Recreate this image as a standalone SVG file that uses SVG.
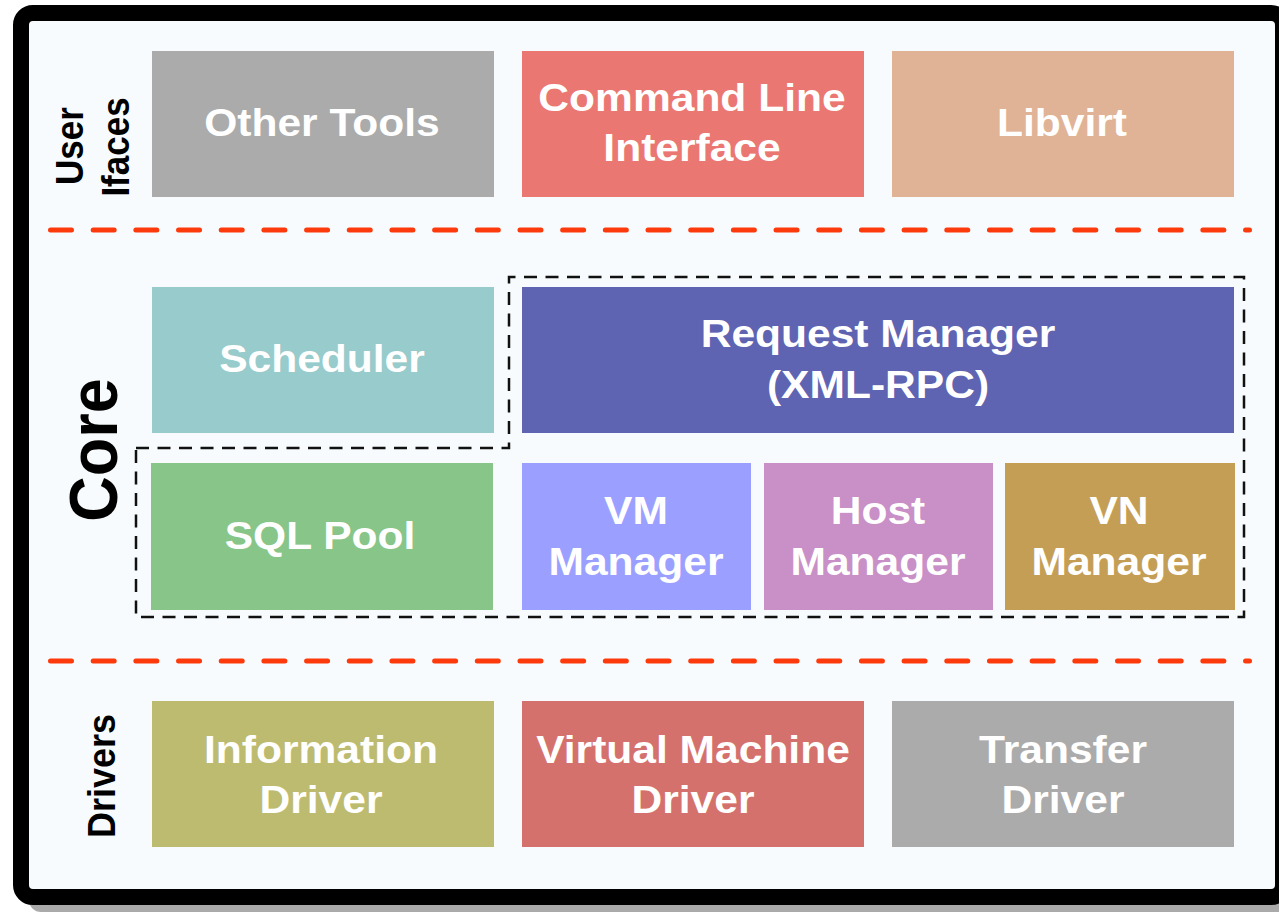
<svg xmlns="http://www.w3.org/2000/svg" width="1279" height="912" viewBox="0 0 1279 912">
<style>
.box text{font-family:"Liberation Sans",Arial,sans-serif;font-weight:bold;font-size:38px;fill:#ffffff;text-anchor:middle}
.lbl{font-family:"Liberation Sans",Arial,sans-serif;font-weight:bold;fill:#000000;text-anchor:middle}
.sep{fill:none;stroke:#fd3a0c;stroke-width:5;stroke-linecap:round;stroke-dasharray:21 21.68}
.grp{fill:none;stroke:#111111;stroke-width:2.5;stroke-dasharray:13 8.5}
</style>
<rect x="29" y="24" width="1262" height="888" rx="12" fill="#aaaaaa"/>
<rect x="21" y="13" width="1262" height="884" rx="12" fill="#f7fbfd" stroke="#000000" stroke-width="16"/>

<g id="labels">
<text class="lbl" font-size="35" transform="translate(83,146) scale(1.1,1) rotate(-90)">User</text>
<text class="lbl" font-size="35" transform="translate(129,147) scale(1.1,1) rotate(-90)">Ifaces</text>
<text class="lbl" font-size="63" transform="translate(117,450) scale(1.1,1) rotate(-90)">Core</text>
<text class="lbl" font-size="36" transform="translate(115,776) scale(1.1,1) rotate(-90)">Drivers</text>
</g>

<g id="separators">
<path class="sep" d="M50.5,230 H1249.5"/>
<path class="sep" d="M50.5,661 H1249.5"/>
<path class="grp" d="M136,448 H509 V277 H1244 V617 H136 Z"/>
</g>

<g id="other-tools" class="box"><rect x="152" y="51" width="342" height="146" fill="#ababab"/>
<text transform="translate(322,136) scale(1.12,1)">Other Tools</text></g>
<g id="cli" class="box"><rect x="522" y="51" width="342" height="146" fill="#eb7772"/>
<text transform="translate(692,111) scale(1.12,1)">Command Line</text>
<text transform="translate(692,161) scale(1.12,1)">Interface</text></g>
<g id="libvirt" class="box"><rect x="892" y="51" width="342" height="146" fill="#e0b396"/>
<text transform="translate(1062,136) scale(1.12,1)">Libvirt</text></g>

<g id="scheduler" class="box"><rect x="152" y="287" width="342" height="146" fill="#97cbcc"/>
<text transform="translate(322,372) scale(1.12,1)">Scheduler</text></g>
<g id="request-manager" class="box"><rect x="522" y="287" width="712" height="146" fill="#5e63b2"/>
<text transform="translate(878,347) scale(1.12,1)">Request Manager</text>
<text transform="translate(878,398) scale(1.12,1)">(XML-RPC)</text></g>

<g id="sql-pool" class="box"><rect x="151" y="463" width="342" height="147" fill="#88c589"/>
<text transform="translate(320,549) scale(1.12,1)">SQL Pool</text></g>
<g id="vm-manager" class="box"><rect x="522" y="463" width="229" height="147" fill="#9b9fff"/>
<text transform="translate(636,524) scale(1.12,1)">VM</text>
<text transform="translate(636,575) scale(1.12,1)">Manager</text></g>
<g id="host-manager" class="box"><rect x="764" y="463" width="229" height="147" fill="#c98fc7"/>
<text transform="translate(878,524) scale(1.12,1)">Host</text>
<text transform="translate(878,575) scale(1.12,1)">Manager</text></g>
<g id="vn-manager" class="box"><rect x="1005" y="463" width="230" height="147" fill="#c49e54"/>
<text transform="translate(1119,524) scale(1.12,1)">VN</text>
<text transform="translate(1119,575) scale(1.12,1)">Manager</text></g>

<g id="information-driver" class="box"><rect x="152" y="701" width="342" height="146" fill="#bdbb70"/>
<text transform="translate(321,763) scale(1.12,1)">Information</text>
<text transform="translate(321,813) scale(1.12,1)">Driver</text></g>
<g id="vm-driver" class="box"><rect x="522" y="701" width="342" height="146" fill="#d5716c"/>
<text transform="translate(693,763) scale(1.12,1)">Virtual Machine</text>
<text transform="translate(693,813) scale(1.12,1)">Driver</text></g>
<g id="transfer-driver" class="box"><rect x="892" y="701" width="342" height="146" fill="#ababab"/>
<text transform="translate(1063,763) scale(1.12,1)">Transfer</text>
<text transform="translate(1063,813) scale(1.12,1)">Driver</text></g>
</svg>
